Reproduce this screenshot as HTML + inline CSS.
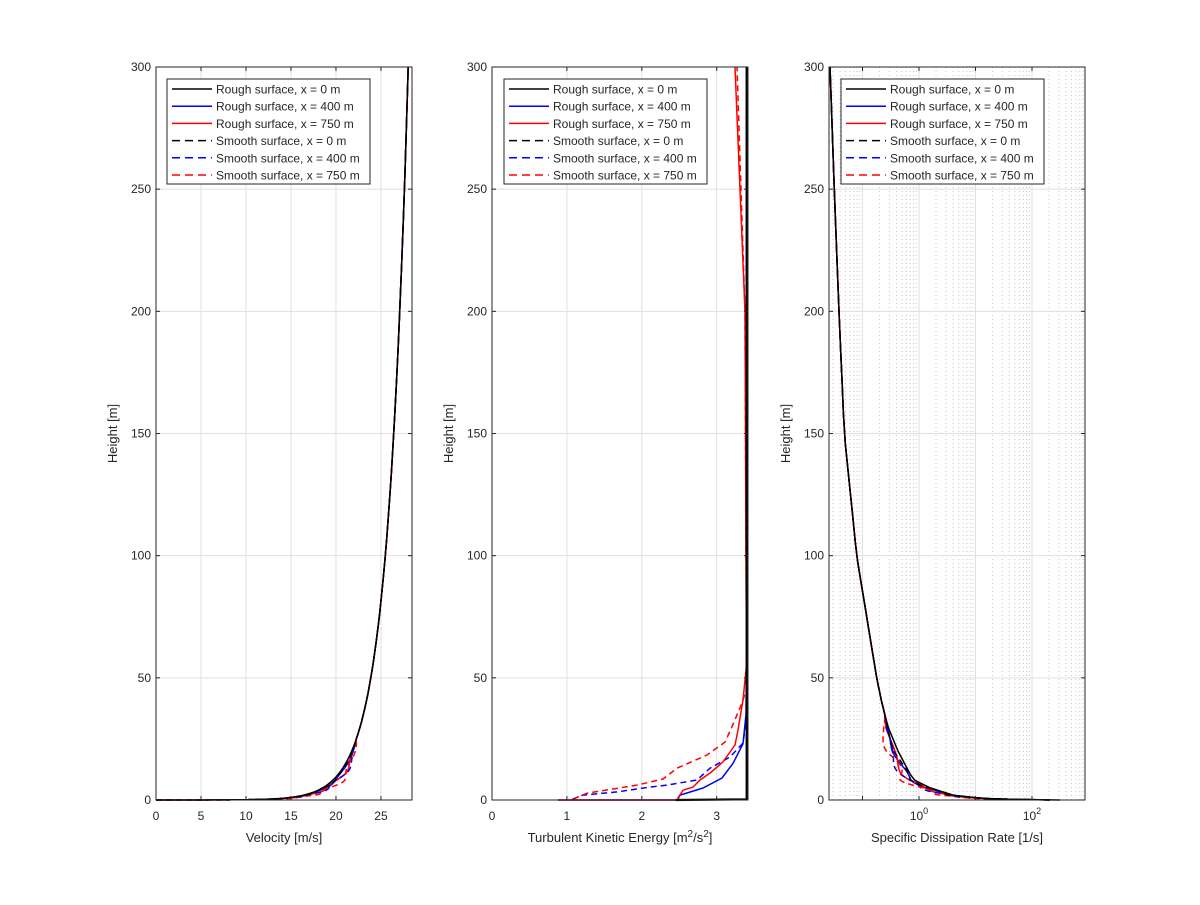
<!DOCTYPE html>
<html><head><meta charset="utf-8"><style>
html,body{margin:0;padding:0;background:#fff;}
svg text{font-family:"Liberation Sans",Arial,sans-serif;fill:#262626;}
</style></head><body>
<svg id="s" width="1200" height="900" xmlns="http://www.w3.org/2000/svg"></svg>
<script>
const S=document.getElementById('s');let h='';
const T=67,B=800;const Y=z=>B-(z/300)*(B-T);
function P(pts,c,d,w){return `<polyline fill="none" stroke="${c}" stroke-width="${w||1.5}" ${d?'stroke-dasharray="6,4"':''} points="${pts.map(p=>p[0].toFixed(1)+','+p[1].toFixed(1)).join(' ')}"/>`;}
function axes(L,R,xt){
 let g='';
 xt.forEach(t=>{if(t[0]>L&&t[0]<R)g+=`<line x1="${t[0]}" y1="${T}" x2="${t[0]}" y2="${B}" stroke="#dfdfdf"/>`;});
 for(let z=50;z<300;z+=50)g+=`<line x1="${L}" y1="${Y(z)}" x2="${R}" y2="${Y(z)}" stroke="#dfdfdf"/>`;
 return g;
}
function frame(L,R,xt,label){
 let g=`<rect x="${L}" y="${T}" width="${R-L}" height="${B-T}" fill="none" stroke="#262626"/>`;
 xt.forEach(t=>{g+=`<line x1="${t[0]}" y1="${B}" x2="${t[0]}" y2="${B-4}" stroke="#262626"/><line x1="${t[0]}" y1="${T}" x2="${t[0]}" y2="${T+4}" stroke="#262626"/>`;
  if(t[1]!=='')g+=`<text x="${t[0]}" y="${B+20}" font-size="12" text-anchor="middle">${t[1]}</text>`;});
 for(let z=0;z<=300;z+=50){g+=`<line x1="${L}" y1="${Y(z)}" x2="${L+4}" y2="${Y(z)}" stroke="#262626"/><line x1="${R}" y1="${Y(z)}" x2="${R-4}" y2="${Y(z)}" stroke="#262626"/><text x="${L-5}" y="${Y(z)+4}" font-size="12" text-anchor="end">${z}</text>`;}
 if(label)g+=`<text x="${(L+R)/2}" y="842" font-size="13" text-anchor="middle">${label}</text>`;
 g+=`<text transform="translate(${L-39},${(T+B)/2}) rotate(-90)" font-size="13" text-anchor="middle">Height [m]</text>`;
 return g;
}
function legend(x){
 const names=['Rough surface, x = 0 m','Rough surface, x = 400 m','Rough surface, x = 750 m','Smooth surface, x = 0 m','Smooth surface, x = 400 m','Smooth surface, x = 750 m'];
 const cols=['#000','#00f','#f00','#000','#00f','#f00'];
 let g=`<rect x="${x}" y="79" width="203" height="105" fill="#fff" stroke="#262626"/>`;
 names.forEach((n,i)=>{const y=89+i*17.2;g+=`<line x1="${x+5}" y1="${y}" x2="${x+45}" y2="${y}" stroke="${cols[i]}" stroke-width="1.5" ${i>2?'stroke-dasharray="8,5"':''}/><text x="${x+49}" y="${y+4.5}" font-size="12">${n}</text>`;});
 return g;
}
const zs=[];for(let i=0;i<=120;i++){zs.push(0.02*Math.pow(300/0.02,i/120));}
function noise(i,k){return Math.sin(i*12.9898+k*78.233)*0.5;}
const cols=['#000','#00f','#f00','#000','#00f','#f00'];
// Plot 1 velocity
{const L=156,R=412,X=u=>L+u*(R-L)/28.45;
 const xt=[0,5,10,15,20,25].map(v=>[X(v),v]);
 h+=axes(L,R,xt);
 const pert=[0,0.3,0.5,0.2,0.6,0.9];
 [1,2,4,5,0,3].forEach(k=>{const pts=[[X(0),Y(0)]];zs.forEach((z,i)=>{let u=2.32*Math.log(z/0.0017);
  if(z<25&&z>0.3)u+=pert[k]*(z<12?1:(25-z)/13)*(1+noise(i,k));pts.push([X(Math.max(u,0)),Y(z)]);});
  h+=P(pts,cols[k],k>2);});
 h+=frame(L,R,xt,'Velocity [m/s]');h+=legend(167);}
// Plot 2 TKE (pixel x, z)
{const L=492,R=748,X=v=>L+v*74.9;
 const xt=[0,1,2,3].map(v=>[X(v),v]);
 h+=axes(L,R,xt);
 const lists={
  1:[[558,0],[678,0],[678,0.4],[680,2],[703,4.9],[722,9],[733,15],[743,23],[746,35],[746.5,60],[746.5,300]],
  2:[[558,0],[678,0],[678,0.8],[683,4],[693,5.3],[700,8.2],[710,11],[723,15.6],[735,22.5],[738,28.6],[743,41],[746.5,55],[746,100],[745,200],[740,250],[735,300]],
  4:[[573,0],[573,0.4],[583,2],[617,3.3],[650,5.3],[667,6.1],[697,8.2],[710,13],[730,17.6],[743,23.3],[747,35],[746.5,60],[746.5,300]],
  5:[[575,0],[575,0.7],[587,2.8],[637,6.1],[663,8.6],[677,13],[707,18.4],[725,23.7],[732,30],[742,39.7],[747,46],[746.5,60],[746,100],[745,200],[741,250],[737,300]]
 };
 [3,1,4,2,5].forEach(k=>{if(k==3){h+=P([[X(3.4),Y(0)],[X(3.4),Y(300)]],'#000',true);return;}
  h+=P(lists[k].map(p=>[p[0],Y(p[1])]),cols[k],k>2);});
 h+=P([[X(2.45),Y(0)],[X(3.4),Y(0.3)],[X(3.4),Y(300)]],'#000',false,2.2);
 h+=frame(L,R,xt,'');
 h+=`<text x="${(L+R)/2}" y="842" font-size="13" text-anchor="middle">Turbulent Kinetic Energy [m<tspan dy="-5" font-size="10">2</tspan><tspan dy="5">/s</tspan><tspan dy="-5" font-size="10">2</tspan><tspan dy="5">]</tspan></text>`;
 h+=legend(504);}
// Plot 3 omega log
{const L=829,R=1085,X=lv=>919+lv*56.5;
 let g='';
 for(let d=-2;d<=3;d++){for(let m=2;m<=9;m++){const x=X(d+Math.log10(m));if(x>L&&x<R)g+=`<line x1="${x}" y1="${T}" x2="${x}" y2="${B}" stroke="#c8c8c8" stroke-dasharray="1,3"/>`;}}
 h+=g;
 const xt=[[X(-1),''],[X(0),'10<tspan dy="-6" font-size="9">0</tspan>'],[X(1),''],[X(2),'10<tspan dy="-6" font-size="9">2</tspan>']];
 h+=axes(L,R,xt);
 const kx=[[0,1055],[0.3,1010],[0.6,990],[1,975],[2,953],[5,930],[8,915],[10,911],[20,898],[30,888],[40,881.7],[50,876.7],[75,866.7],[100,856.7],[150,844.3],[200,839],[250,834.3],[300,830]];
 const f=z=>{for(let i=1;i<kx.length;i++)if(z<=kx[i][0]){const a=kx[i-1],b=kx[i];return a[1]+(b[1]-a[1])*(z-a[0])/(b[0]-a[0]);}return 830;};
 const off=[0,-4,-6,-3,-8,-10];
 [1,2,4,5,3,0].forEach(k=>{const pts=[];zs.forEach((z,i)=>{if(z<0.2)return;let x=f(z);if(z<35&&z>0.5)x+=off[k]*(z<20?1:(35-z)/15)*(1+noise(i,k));pts.push([Math.max(L,x),Y(z)]);});
  pts.unshift([k==0?1060:1050,Y(0)]);h+=P(pts,cols[k],k>2);});
 h+=frame(L,R,xt,'Specific Dissipation Rate [1/s]');h+=legend(841);}
S.innerHTML=h;
</script>
</body></html>
